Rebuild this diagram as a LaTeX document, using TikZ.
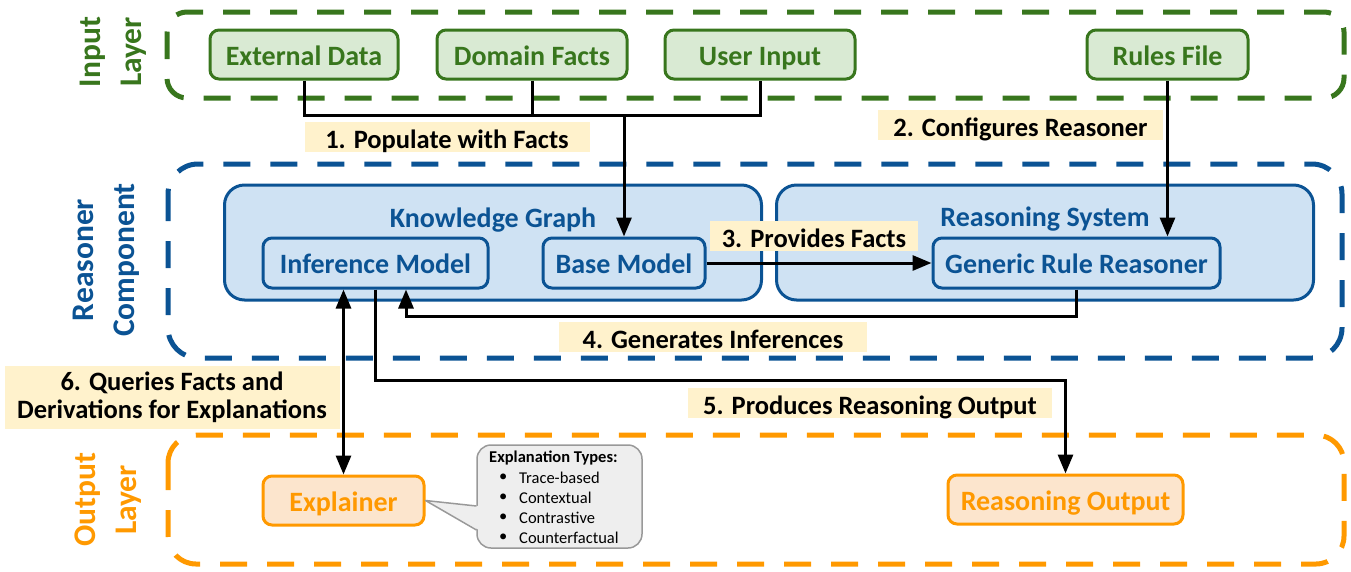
\documentclass[tikz,border=0pt]{standalone}
\usepackage{fontspec}
\setmainfont{Carlito}
\usetikzlibrary{arrows.meta}
\definecolor{gline}{HTML}{38761D}
\definecolor{gfill}{HTML}{D9EAD3}
\definecolor{bline}{HTML}{0B5394}
\definecolor{bfill}{HTML}{CFE2F3}
\definecolor{oline}{HTML}{FF9900}
\definecolor{ofill}{HTML}{FCE5CD}
\definecolor{lblfill}{HTML}{FFF2CC}
\definecolor{cfill}{HTML}{EEEEEE}
\definecolor{cline}{HTML}{999999}
\begin{document}
\begin{tikzpicture}[x=1pt,y=-1pt,
  container/.style={line width=5pt, dash pattern=on 27pt off 20pt},
  layerlbl/.style={rotate=90, align=center, font=\fontsize{31.5}{41}\selectfont\bfseries},
  box/.style={rounded corners=9pt, line width=3pt, inner sep=0pt, text height=23pt, text depth=2pt, font=\fontsize{28}{32}\selectfont\bfseries},
  gbox/.style={box, draw=gline, fill=gfill, text=gline, minimum height=49pt},
  bbox/.style={box, draw=bline, fill=bfill, text=bline, minimum height=50pt},
  obox/.style={box, draw=oline, fill=ofill, text=oline, minimum height=49pt},
  group/.style={rounded corners=20pt, line width=3pt, draw=bline, fill=bfill, minimum width=537pt, minimum height=115pt},
  grouptitle/.style={text=bline, font=\fontsize{28}{32}\selectfont\bfseries, inner sep=0pt, text height=23pt, text depth=2pt},
  lbl/.style={fill=lblfill, text=black, inner sep=0pt, font=\fontsize{26.5}{28}\selectfont\bfseries},
  lbl1/.style={lbl, minimum height=30pt, text height=23pt, text depth=0pt},
  conn/.style={line width=3pt, black},
  tip/.style={-{Triangle[length=19pt,width=15pt]}},
  small/.style={inner sep=0pt, font=\fontsize{16.5}{18}\selectfont, anchor=west}
]
\useasboundingbox (0,0) rectangle (1351,571);

% containers
\draw[container, draw=gline, rounded corners=20pt] (167,12) rectangle (1344,98);
\draw[container, draw=bline, rounded corners=30pt] (168,164) rectangle (1342,358);
\draw[container, draw=oline, rounded corners=28pt] (168,435) rectangle (1344,564);

\node[layerlbl, text=gline] (inlbl) at (113,52) {Input\\Layer};
\node[layerlbl, text=bline] (rclbl) at (106,260) {Reasoner\\Component};
\node[layerlbl, text=oline] (outlbl) at (108,500) {Output\\Layer};

% input nodes
\node[gbox, minimum width=188pt] (ext) at (304,54.5) {External Data};
\node[gbox, minimum width=190pt] (dom) at (532,54.5) {Domain Facts};
\node[gbox, minimum width=190pt] (usr) at (760,54.5) {User Input};
\node[gbox, minimum width=161pt] (rules) at (1167.5,54.5) {Rules File};

% reasoner groups
\node[group] (kg) at (493,242.5) {};
\node[grouptitle] (kgt) at (493,217) {Knowledge Graph};
\node[group] (rs) at (1045,242.5) {};
\node[grouptitle] (rst) at (1045,216) {Reasoning System};
\node[bbox, minimum width=225pt] (inf) at (375.5,263) {Inference Model};
\node[bbox, minimum width=162pt] (base) at (624,263) {Base Model};
\node[bbox, minimum width=287pt] (grr) at (1076.5,263) {Generic Rule Reasoner};

% output nodes
\node[obox, minimum width=161pt] (expl) at (343.5,500.5) {Explainer};
\node[obox, minimum width=235pt] (ro) at (1065.5,499.5) {Reasoning Output};

% callout
\node[draw=cline, fill=cfill, line width=1.5pt, rounded corners=14pt, minimum width=165pt, minimum height=103pt] (call) at (559.5,496.5) {};
\coordinate (pa) at (479,506);
\coordinate (pb) at (479,530);
\fill[cfill] (pa) -- (expl.east) -- (pb) -- cycle;
\draw[cline, line width=1.5pt, line join=round] (476.5,506) -- (expl.east) -- (476.5,530);
\node[small, font=\fontsize{16.5}{18}\selectfont\bfseries] (ct) at (489,458) {Explanation Types:};
\foreach \y/\t [count=\i] in {478/Trace-based, 498/Contextual, 518/Contrastive, 538/Counterfactual}{
  \node[small] (b\i) at (499,\y) {•};
  \node[small] (c\i) at (519,\y) {\t};
}

% connectors
\coordinate (bus) at (0,115);
\draw[conn] (ext.south) |- (usr.south |- bus) -- (usr.south);
\draw[conn] (dom.south) -- (dom.south |- bus);
\draw[conn, tip] (base.north |- bus) -- (base.north);
\draw[conn, tip] (rules.south) -- (rules.south |- grr.north);
\draw[conn, tip] (base.east) -- (grr.west);
\coordinate (p4) at (406,316);
\draw[conn, tip] (grr.south) |- (p4) -- (p4 |- inf.south);
\coordinate (p5) at (0,380);
\draw[conn, tip] (inf.south) |- (ro.north |- p5) -- (ro.north);
\draw[conn, {Triangle[length=19pt,width=15pt]}-{Triangle[length=19pt,width=15pt]}] (expl.north |- inf.south) -- (expl.north);

% labels
\node[lbl1, minimum width=285pt] (l1) at (447,137) {1. Populate with Facts};
\node[lbl1, minimum width=285pt] (l2) at (1020.5,125) {2. Configures Reasoner};
\node[lbl1, minimum width=208pt] (l3) at (814,235.5) {3. Provides Facts};
\node[lbl1, minimum width=308pt] (l4) at (713,337) {4. Generates Inferences};
\node[lbl1, minimum width=364pt] (l5) at (870,403) {5. Produces Reasoning Output};
\node[lbl, minimum width=335pt, minimum height=63pt, align=center] (l6) at (172,397.5) {6. Queries Facts and\\Derivations for Explanations};
\end{tikzpicture}
\end{document}
